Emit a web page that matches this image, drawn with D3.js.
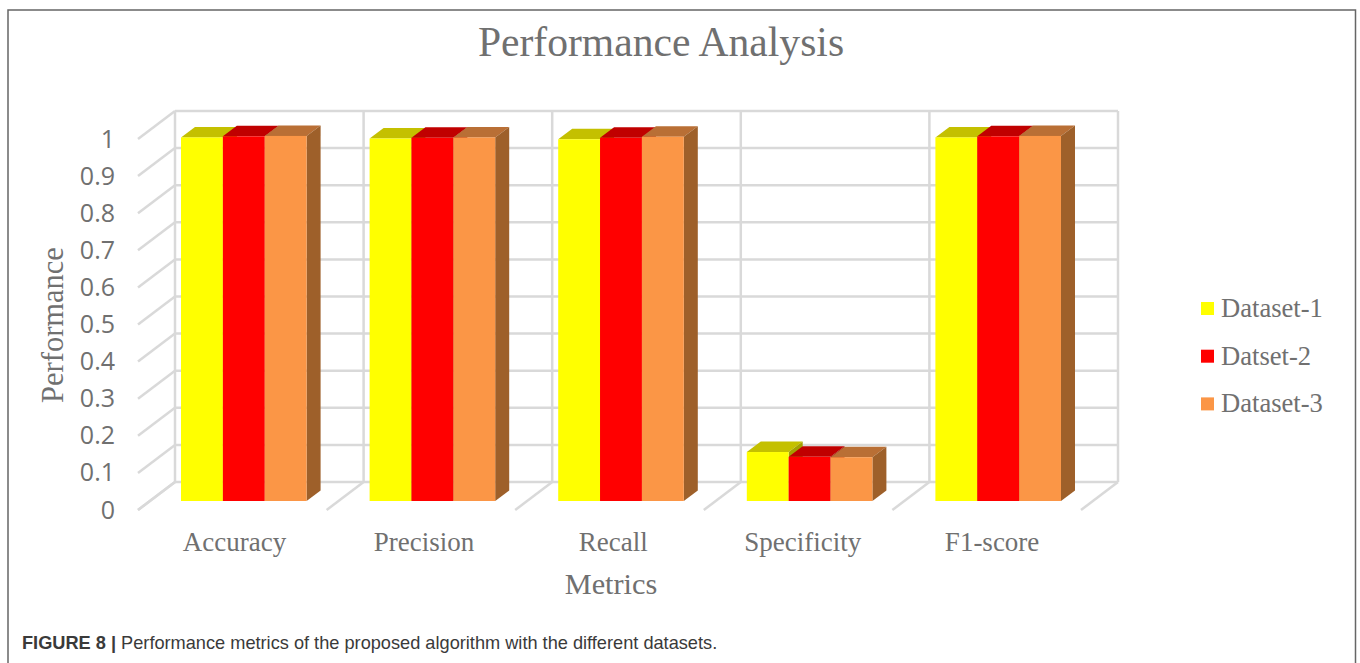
<!DOCTYPE html>
<html>
<head>
<meta charset="utf-8">
<script src="https://cdn.jsdelivr.net/npm/d3@7"></script>
<style>
    html, body { margin: 0; padding: 0; background: #fff; overflow: hidden; }
    svg { display: block; }
</style>
</head>
<body>
<svg id="chart" width="1360" height="663"></svg>
<script>
const categories = ["Accuracy", "Precision", "Recall", "Specificity", "F1-score"];
const seriesNames = ["Dataset-1", "Datset-2", "Dataset-3"];
const dataset1 = [0.98, 0.977, 0.975, 0.132, 0.98];
const dataset2 = [0.983, 0.979, 0.979, 0.119, 0.983];
const dataset3 = [0.984, 0.98, 0.982, 0.118, 0.984];
const yTicks = [0, 0.1, 0.2, 0.3, 0.4, 0.5, 0.6, 0.7, 0.8, 0.9, 1];

const front = ["#ffff00", "#ff0000", "#fb9646"];
const top_ = ["#c4c000", "#c00000", "#b96f35"];
const side = ["#a3a000", "#a00000", "#9e602a"];
const gridColor = "#d9d9d9";
const textColor = "#707070";
const serif = "'Liberation Serif', serif";

const svg = d3.select("#chart");

// back wall
const xBack = d3.scaleBand().domain(categories).range([175, 1118]);
const yBack = d3.scaleLinear().domain([0, 1]).range([482, 111]);
// plane the front of the bars sits on
const xBar = d3.scaleBand().domain(categories).range([150, 1093]);
const yBar = d3.scaleLinear().domain([0, 1]).range([501, 130]);
const xInner = d3.scaleBand().domain(seriesNames).range([31, xBar.bandwidth() - 32]);
const depthX = 14, depthY = 10.5; // bar depth
const floorX = 37, floorY = 28; // floor depth

// frame (no bottom edge in the figure)
svg.append("path")
    .attr("d", "M8,663V10H1355.5V663")
    .attr("fill", "none")
    .attr("stroke", "#666")
    .attr("stroke-width", 1.5);

// ==============================================================
// Walls and floor
const grid = svg.append("g")
    .attr("fill", "none")
    .attr("stroke", gridColor)
    .attr("stroke-width", 2.5);

yTicks.forEach(t => {
    grid.append("line")
        .attr("x1", xBack.range()[0]).attr("x2", xBack.range()[1])
        .attr("y1", yBack(t)).attr("y2", yBack(t));
    grid.append("line")
        .attr("x1", xBack.range()[0]).attr("x2", xBack.range()[0] - floorX)
        .attr("y1", yBack(t)).attr("y2", yBack(t) + floorY);
});

const walls = categories.map(c => xBack(c)).concat(xBack.range()[1]);
walls.forEach(wx => {
    grid.append("line")
        .attr("x1", wx).attr("x2", wx)
        .attr("y1", yBack(1)).attr("y2", yBack(0));
    grid.append("line")
        .attr("x1", wx).attr("x2", wx - floorX)
        .attr("y1", yBack(0)).attr("y2", yBack(0) + floorY);
});

// ==============================================================
// Bars, painted left to right so the neighbour covers the side face
const bars = svg.append("g");
categories.forEach((c, i) => {
    [dataset1, dataset2, dataset3].forEach((values, s) => {
        const x0 = xBar(c) + xInner(seriesNames[s]),
            x1 = x0 + xInner.bandwidth(),
            y0 = yBar(0),
            y1 = yBar(values[i]);
        bars.append("polygon")
            .attr("fill", top_[s])
            .attr("points", [[x0, y1], [x1, y1], [x1 + depthX, y1 - depthY], [x0 + depthX, y1 - depthY]].join(" "));
        bars.append("polygon")
            .attr("fill", side[s])
            .attr("points", [[x1, y1], [x1 + depthX, y1 - depthY], [x1 + depthX, y0 - depthY], [x1, y0]].join(" "));
        bars.append("rect")
            .attr("x", x0)
            .attr("y", y1)
            .attr("width", x1 - x0)
            .attr("height", y0 - y1)
            .attr("fill", front[s]);
    });
});

// ==============================================================
// Axes
const yLabels = d3.scaleLinear().domain([0, 1]).range([510, 139]);
const yAxis = svg.append("g")
    .attr("transform", "translate(115,0)")
    .call(d3.axisLeft(yLabels).tickValues(yTicks).tickFormat(d3.format("~g")).tickSize(0).tickPadding(0));
yAxis.select(".domain").remove();
yAxis.selectAll("text")
    .attr("fill", textColor)
    .style("font-family", "'Open Sans', sans-serif")
    .style("font-size", "25px");

const xLabels = svg.append("g")
    .attr("transform", "translate(0,551)")
    .call(d3.axisBottom(d3.scaleBand().domain(categories).range([139.8, 1086.8])).tickSize(0).tickPadding(0));
xLabels.select(".domain").remove();
xLabels.selectAll("text")
    .attr("y", 0)
    .attr("dy", 0)
    .attr("fill", textColor)
    .style("font-family", serif)
    .style("font-size", "27px");

svg.append("text")
    .attr("x", 661).attr("y", 56)
    .attr("text-anchor", "middle")
    .attr("fill", textColor)
    .style("font-family", serif)
    .style("font-size", "41.6px")
    .text("Performance Analysis");

svg.append("text")
    .attr("x", 611).attr("y", 594)
    .attr("text-anchor", "middle")
    .attr("fill", textColor)
    .style("font-family", serif)
    .style("font-size", "30.3px")
    .text("Metrics");

svg.append("text")
    .attr("transform", "translate(63,325) rotate(-90)")
    .attr("text-anchor", "middle")
    .attr("fill", textColor)
    .style("font-family", serif)
    .style("font-size", "30.5px")
    .text("Performance");

// ==============================================================
// Legend
const legend = svg.append("g")
    .selectAll("g")
    .data(seriesNames)
    .join("g")
    .attr("transform", (d, i) => `translate(1201,${302 + i * 47.7})`);
legend.append("rect")
    .attr("width", 13).attr("height", 13)
    .attr("fill", (d, i) => front[i]);
legend.append("text")
    .attr("x", 20).attr("y", 15)
    .attr("fill", textColor)
    .style("font-family", serif)
    .style("font-size", "26.6px")
    .text(d => d);

// ==============================================================
// Caption
const caption = svg.append("text")
    .attr("x", 22).attr("y", 649)
    .attr("fill", "#3a3a3a")
    .style("font-family", "'Liberation Sans', sans-serif")
    .style("font-size", "18.2px");
caption.append("tspan").attr("font-weight", "bold").text("FIGURE 8 | ");
caption.append("tspan").text("Performance metrics of the proposed algorithm with the different datasets.");
</script>
</body>
</html>
